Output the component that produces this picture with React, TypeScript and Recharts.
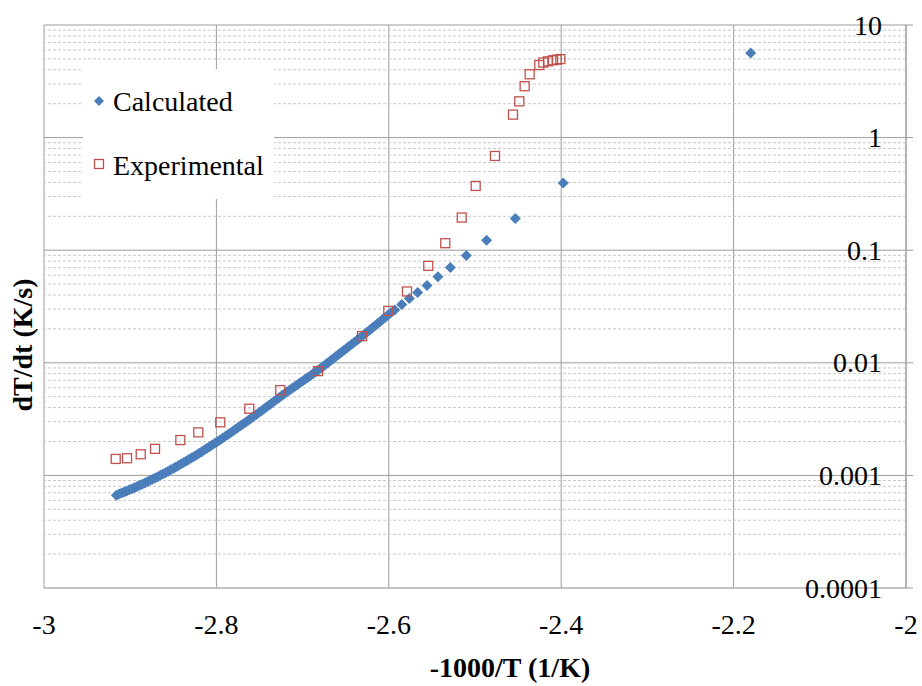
import React from 'react';
import { ScatterChart, Scatter, XAxis, YAxis, CartesianGrid, ReferenceLine, Legend, Customized } from 'recharts';

const FONT = '"Liberation Serif", "Times New Roman", serif';
const BLUE = '#4a7ebb';
const RED = '#c0504d';
const GRID = '#9c9c9c';
const MINOR = '#c8c8c8';
const AXIS = '#b8b8b8';

const xTicks = [-3, -2.8, -2.6, -2.4, -2.2, -2];
const yTicks = [0.0001, 0.001, 0.01, 0.1, 1, 10];
const minorSteps = [2, 3, 4, 5, 6, 7, 8, 9];

// model output [-1000/T, dT/dt], densely sampled part
const calcBand = [
  [-2.916, 0.000668], [-2.913, 0.000682], [-2.91, 0.000697], [-2.907, 0.000712], [-2.904, 0.000728],
  [-2.901, 0.000744], [-2.898, 0.00076], [-2.895, 0.000778], [-2.892, 0.000796], [-2.889, 0.000816],
  [-2.886, 0.000836], [-2.883, 0.000856], [-2.88, 0.000877], [-2.877, 0.0009], [-2.874, 0.000925],
  [-2.871, 0.00095], [-2.868, 0.000975], [-2.865, 0.001001], [-2.862, 0.001028], [-2.859, 0.001058],
  [-2.856, 0.001089], [-2.853, 0.001121], [-2.85, 0.001153], [-2.847, 0.001187], [-2.844, 0.001222],
  [-2.841, 0.00126], [-2.838, 0.0013], [-2.835, 0.001341], [-2.832, 0.001384], [-2.829, 0.001427],
  [-2.826, 0.001472], [-2.823, 0.001521], [-2.82, 0.00157], [-2.817, 0.001624], [-2.814, 0.001679],
  [-2.811, 0.001738], [-2.808, 0.001799], [-2.805, 0.001862], [-2.802, 0.001928], [-2.799, 0.001995],
  [-2.796, 0.002065], [-2.793, 0.002141], [-2.79, 0.002218], [-2.787, 0.002299], [-2.784, 0.002382],
  [-2.781, 0.002472], [-2.778, 0.002564], [-2.775, 0.002661], [-2.772, 0.002761], [-2.769, 0.002864],
  [-2.766, 0.002972], [-2.763, 0.003086], [-2.76, 0.003206], [-2.757, 0.00333], [-2.754, 0.003459],
  [-2.751, 0.003597], [-2.748, 0.003741], [-2.745, 0.00389], [-2.742, 0.004046], [-2.739, 0.004207],
  [-2.736, 0.004375], [-2.733, 0.00455], [-2.73, 0.004732], [-2.727, 0.004926], [-2.724, 0.005129],
  [-2.721, 0.005321], [-2.718, 0.005521], [-2.715, 0.005728], [-2.712, 0.005943], [-2.709, 0.006166],
  [-2.706, 0.006397], [-2.703, 0.006637], [-2.7, 0.006887], [-2.697, 0.007145], [-2.694, 0.007413],
  [-2.691, 0.007691], [-2.688, 0.00798], [-2.685, 0.008279], [-2.682, 0.00859], [-2.679, 0.008943],
  [-2.676, 0.009311], [-2.673, 0.009694], [-2.67, 0.01009], [-2.667, 0.01052], [-2.664, 0.01096],
  [-2.661, 0.01141], [-2.658, 0.01189], [-2.655, 0.01239], [-2.652, 0.01291], [-2.649, 0.01344],
  [-2.646, 0.014], [-2.643, 0.01459], [-2.64, 0.01521], [-2.637, 0.01585], [-2.634, 0.01652],
  [-2.631, 0.01724], [-2.628, 0.01799], [-2.625, 0.01877], [-2.622, 0.01959], [-2.619, 0.02044],
  [-2.616, 0.02133], [-2.613, 0.02228], [-2.61, 0.02328], [-2.607, 0.02432], [-2.604, 0.02541],
  [-2.601, 0.02655], [-2.598, 0.02773],
];

// model output, sparse high-rate part
const calcTailX = [-2.5932, -2.585, -2.5762, -2.5665, -2.5557, -2.543, -2.5286, -2.51, -2.4865, -2.4532, -2.3976, -2.1802];
const calcTailY = [0.0295, 0.033, 0.0373, 0.0421, 0.0486, 0.058, 0.0703, 0.0898, 0.1227, 0.191, 0.396, 5.64];

// measured points
const expX = [
  -2.9168, -2.9037, -2.8878, -2.8712, -2.8418, -2.821, -2.7955, -2.7618, -2.7259, -2.6821,
  -2.6311, -2.6006, -2.5789, -2.5542, -2.5345, -2.5154, -2.4992, -2.4768, -2.4559, -2.4486,
  -2.4424, -2.4366, -2.4254, -2.4207, -2.4153, -2.4095, -2.4052, -2.401,
];
const expY = [
  0.0014, 0.00142, 0.00154, 0.00172, 0.00206, 0.00241, 0.00296, 0.00391, 0.00572, 0.00844,
  0.01726, 0.0289, 0.043, 0.0726, 0.1154, 0.195, 0.372, 0.687, 1.6, 2.1,
  2.86, 3.65, 4.41, 4.64, 4.76, 4.86, 4.93, 4.98,
];

const calcData = [
  ...calcBand.map(([x, y]) => ({ x, y })),
  ...calcTailX.map((x, i) => ({ x, y: calcTailY[i] })),
];
const expData = expX.map((x, i) => ({ x, y: expY[i] }));

// dashed lines at 2..9 within each decade
const minorValues = yTicks
  .slice(0, -1)
  .flatMap((d) => minorSteps.map((m) => Number((d * m).toPrecision(2))));

const Diamond = (props: any) => {
  const { cx, cy } = props;
  const r = 5.5;
  return <path d={`M${cx},${cy - r}L${cx + r},${cy}L${cx},${cy + r}L${cx - r},${cy}Z`} fill={BLUE} />;
};

const OpenSquare = (props: any) => {
  const { cx, cy } = props;
  return <rect x={cx - 4.5} y={cy - 4.5} width={9} height={9} fill="none" stroke={RED} strokeWidth={1.3} />;
};

// labels sit inside the plot, left of the right-hand axis
const YTick = (props: any) => {
  const { x, y, payload } = props;
  return (
    <text x={x - 33} y={y} dy="0.34em" textAnchor="end" fontFamily={FONT} fontSize={28} fill="#000">
      {String(payload.value)}
    </text>
  );
};

const LegendBox = () => (
  <svg width={191} height={130} style={{ display: 'block' }}>
    <rect width={191} height={130} fill="#fff" />
    <path d="M16,27L21,32L16,37L11,32Z" fill={BLUE} />
    <text x={30} y={42} fontFamily={FONT} fontSize={28} fill="#000">Calculated</text>
    <rect x={11.5} y={90.5} width={9} height={9} fill="none" stroke={RED} strokeWidth={1.3} />
    <text x={30} y={106} fontFamily={FONT} fontSize={28} fill="#000">Experimental</text>
  </svg>
);

const Titles = () => (
  <g fontFamily={FONT} fontSize={28} fontWeight="bold" fill="#000">
    <text x={510} y={677} textAnchor="middle">-1000/T (1/K)</text>
    <text transform="translate(32,345) rotate(-90)" textAnchor="middle">dT/dt (K/s)</text>
  </g>
);

export default function App() {
  return (
    <div style={{ position: 'absolute', left: 0, top: 0, width: 922, height: 686, background: '#fff', fontFamily: FONT }}>
      <ScatterChart width={922} height={686} margin={{ top: 25, right: 0, bottom: 38, left: 44 }}>
        <CartesianGrid stroke={GRID} />
        {minorValues.map((v) => (
          <ReferenceLine key={v} y={v} stroke={MINOR} strokeDasharray="3 2" />
        ))}
        <XAxis
          type="number"
          dataKey="x"
          domain={[-3, -2]}
          ticks={xTicks}
          interval={0}
          allowDataOverflow
          height={60}
          tickLine={false}
          tickMargin={20}
          axisLine={{ stroke: AXIS }}
          tick={{ fontFamily: FONT, fontSize: 28, fill: '#000' }}
        />
        <YAxis
          type="number"
          dataKey="y"
          scale="log"
          domain={[0.0001, 10]}
          ticks={yTicks}
          interval={0}
          allowDataOverflow
          orientation="right"
          width={16}
          tickSize={7}
          tickMargin={2}
          tickLine={{ stroke: GRID }}
          axisLine={{ stroke: GRID }}
          tick={YTick}
        />
        <Legend
          layout="vertical"
          align="center"
          verticalAlign="middle"
          wrapperStyle={{ left: 83, top: 69, width: 191, height: 130 }}
          content={LegendBox}
        />
        <Scatter name="Calculated" data={calcData} shape={Diamond} isAnimationActive={false} />
        <Scatter name="Experimental" data={expData} shape={OpenSquare} isAnimationActive={false} />
        <Customized component={Titles} />
      </ScatterChart>
    </div>
  );
}
